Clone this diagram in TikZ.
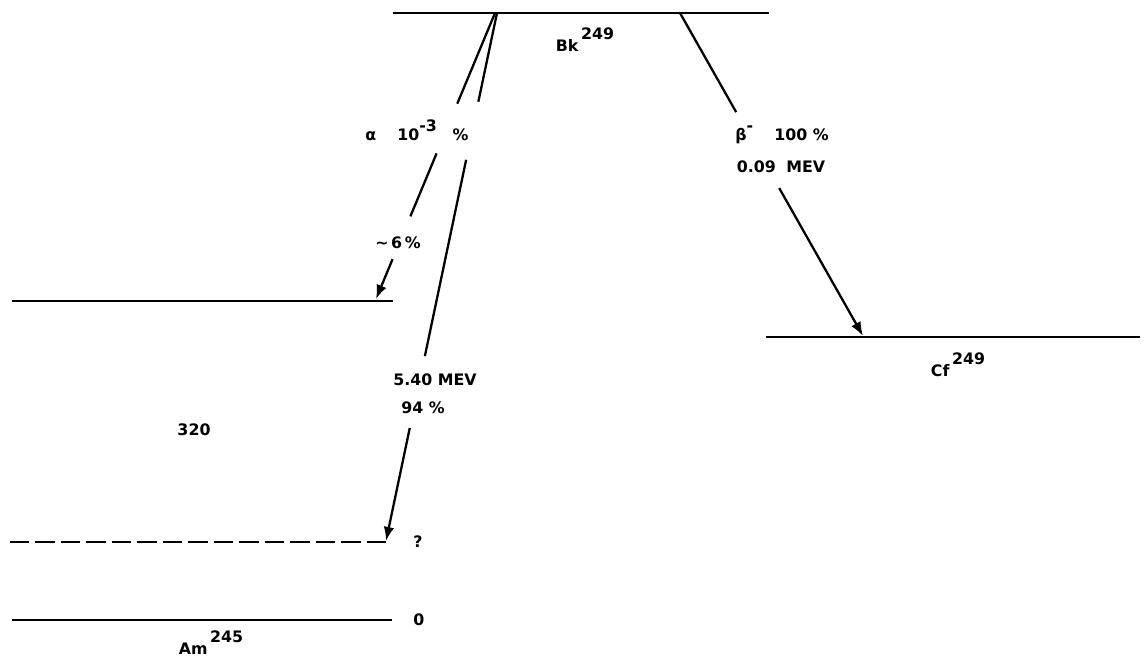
\documentclass[tikz,border=0pt]{standalone}
\usepackage{fontspec}
\setmainfont{DejaVu Sans}
\usepackage{tikz}
\usetikzlibrary{arrows.meta, calc, positioning}

\tikzset{
    level/.style={line width=1.5pt},
    gslevel/.style={level, dash pattern=on 11pt off 3.5pt},
    decay/.style={line width=1.3pt},
    decayarrow/.style={decay, -{Latex[length=8pt, width=6pt]}},
    lbl/.style={font=\fontsize{9}{11}\selectfont\bfseries, inner sep=0pt},
}
\newcommand{\isotope}[2]{#1\,\raisebox{0.75em}{#2}}
\newcommand{\upscript}[1]{\raisebox{0.6em}{#1}}

\begin{document}
\begin{tikzpicture}[x=0.02cm, y=-0.02cm]
    \useasboundingbox (0,0) rectangle (1145,662);

    % Levels
    \draw[level] (393,13) -- (769,13);
    \draw[level] (12,301) coordinate (lvA) -- (393,301) coordinate (lvB);
    \draw[level] (766,337) -- (1140,337);
    \draw[gslevel] (10,542) -- (392,542) coordinate (lvQ);
    \draw[level] (12,620) -- (392,620) coordinate (lvZ);

    % Level labels
    \node[lbl] (bk) at (585,40) {\isotope{Bk}{249}};
    \node[lbl] (cf) at (958,365) {\isotope{Cf}{249}};
    \node[lbl] (am) at (211,643) {\isotope{Am}{245}};
    \node[lbl] (e320) at (194,430) {320};
    \node[lbl, right=12pt of lvQ] (eq) {?};
    \node[lbl, right=12pt of lvZ] (e0) {0};

    % Decay labels
    \node[lbl] (alpha) at (417,130) {α\hspace{12pt}10\upscript{-3}\hspace{9pt}\%};
    \node[lbl] (six) at (398,243) {∼\,6\,\%};
    \node[lbl] (mev) at (435,380) {5.40 MEV};
    \node[lbl] (ninety) at (423,408) {94 \%};
    \node[lbl] (beta) at (782,135) {β\upscript{-}\hspace{12pt}100 \%};
    \node[lbl] (qbeta) at (781,167) {0.09\hspace{6pt}MEV};

    % Alpha branches (broken by the labels)
    \coordinate (aS) at (495,13);
    \coordinate (aE) at (376,299);
    \coordinate (bS) at (497,13);
    \coordinate (bE) at (386,541);
    \draw[decay] (aS) -- ($(aS)!0.317!(aE)$);
    \draw[decay] ($(aS)!0.491!(aE)$) -- ($(aS)!0.711!(aE)$);
    \draw[decayarrow] ($(aS)!0.861!(aE)$) -- (aE);
    \draw[decay] (bS) -- ($(bS)!0.168!(bE)$);
    \draw[decay] ($(bS)!0.278!(bE)$) -- ($(bS)!0.650!(bE)$);
    \draw[decayarrow] ($(bS)!0.786!(bE)$) -- (bE);

    % Beta branch
    \coordinate (cS) at (680,13);
    \coordinate (cE) at (863,336);
    \draw[decay] (cS) -- ($(cS)!0.307!(cE)$);
    \draw[decayarrow] ($(cS)!0.542!(cE)$) -- (cE);
\end{tikzpicture}
\end{document}
